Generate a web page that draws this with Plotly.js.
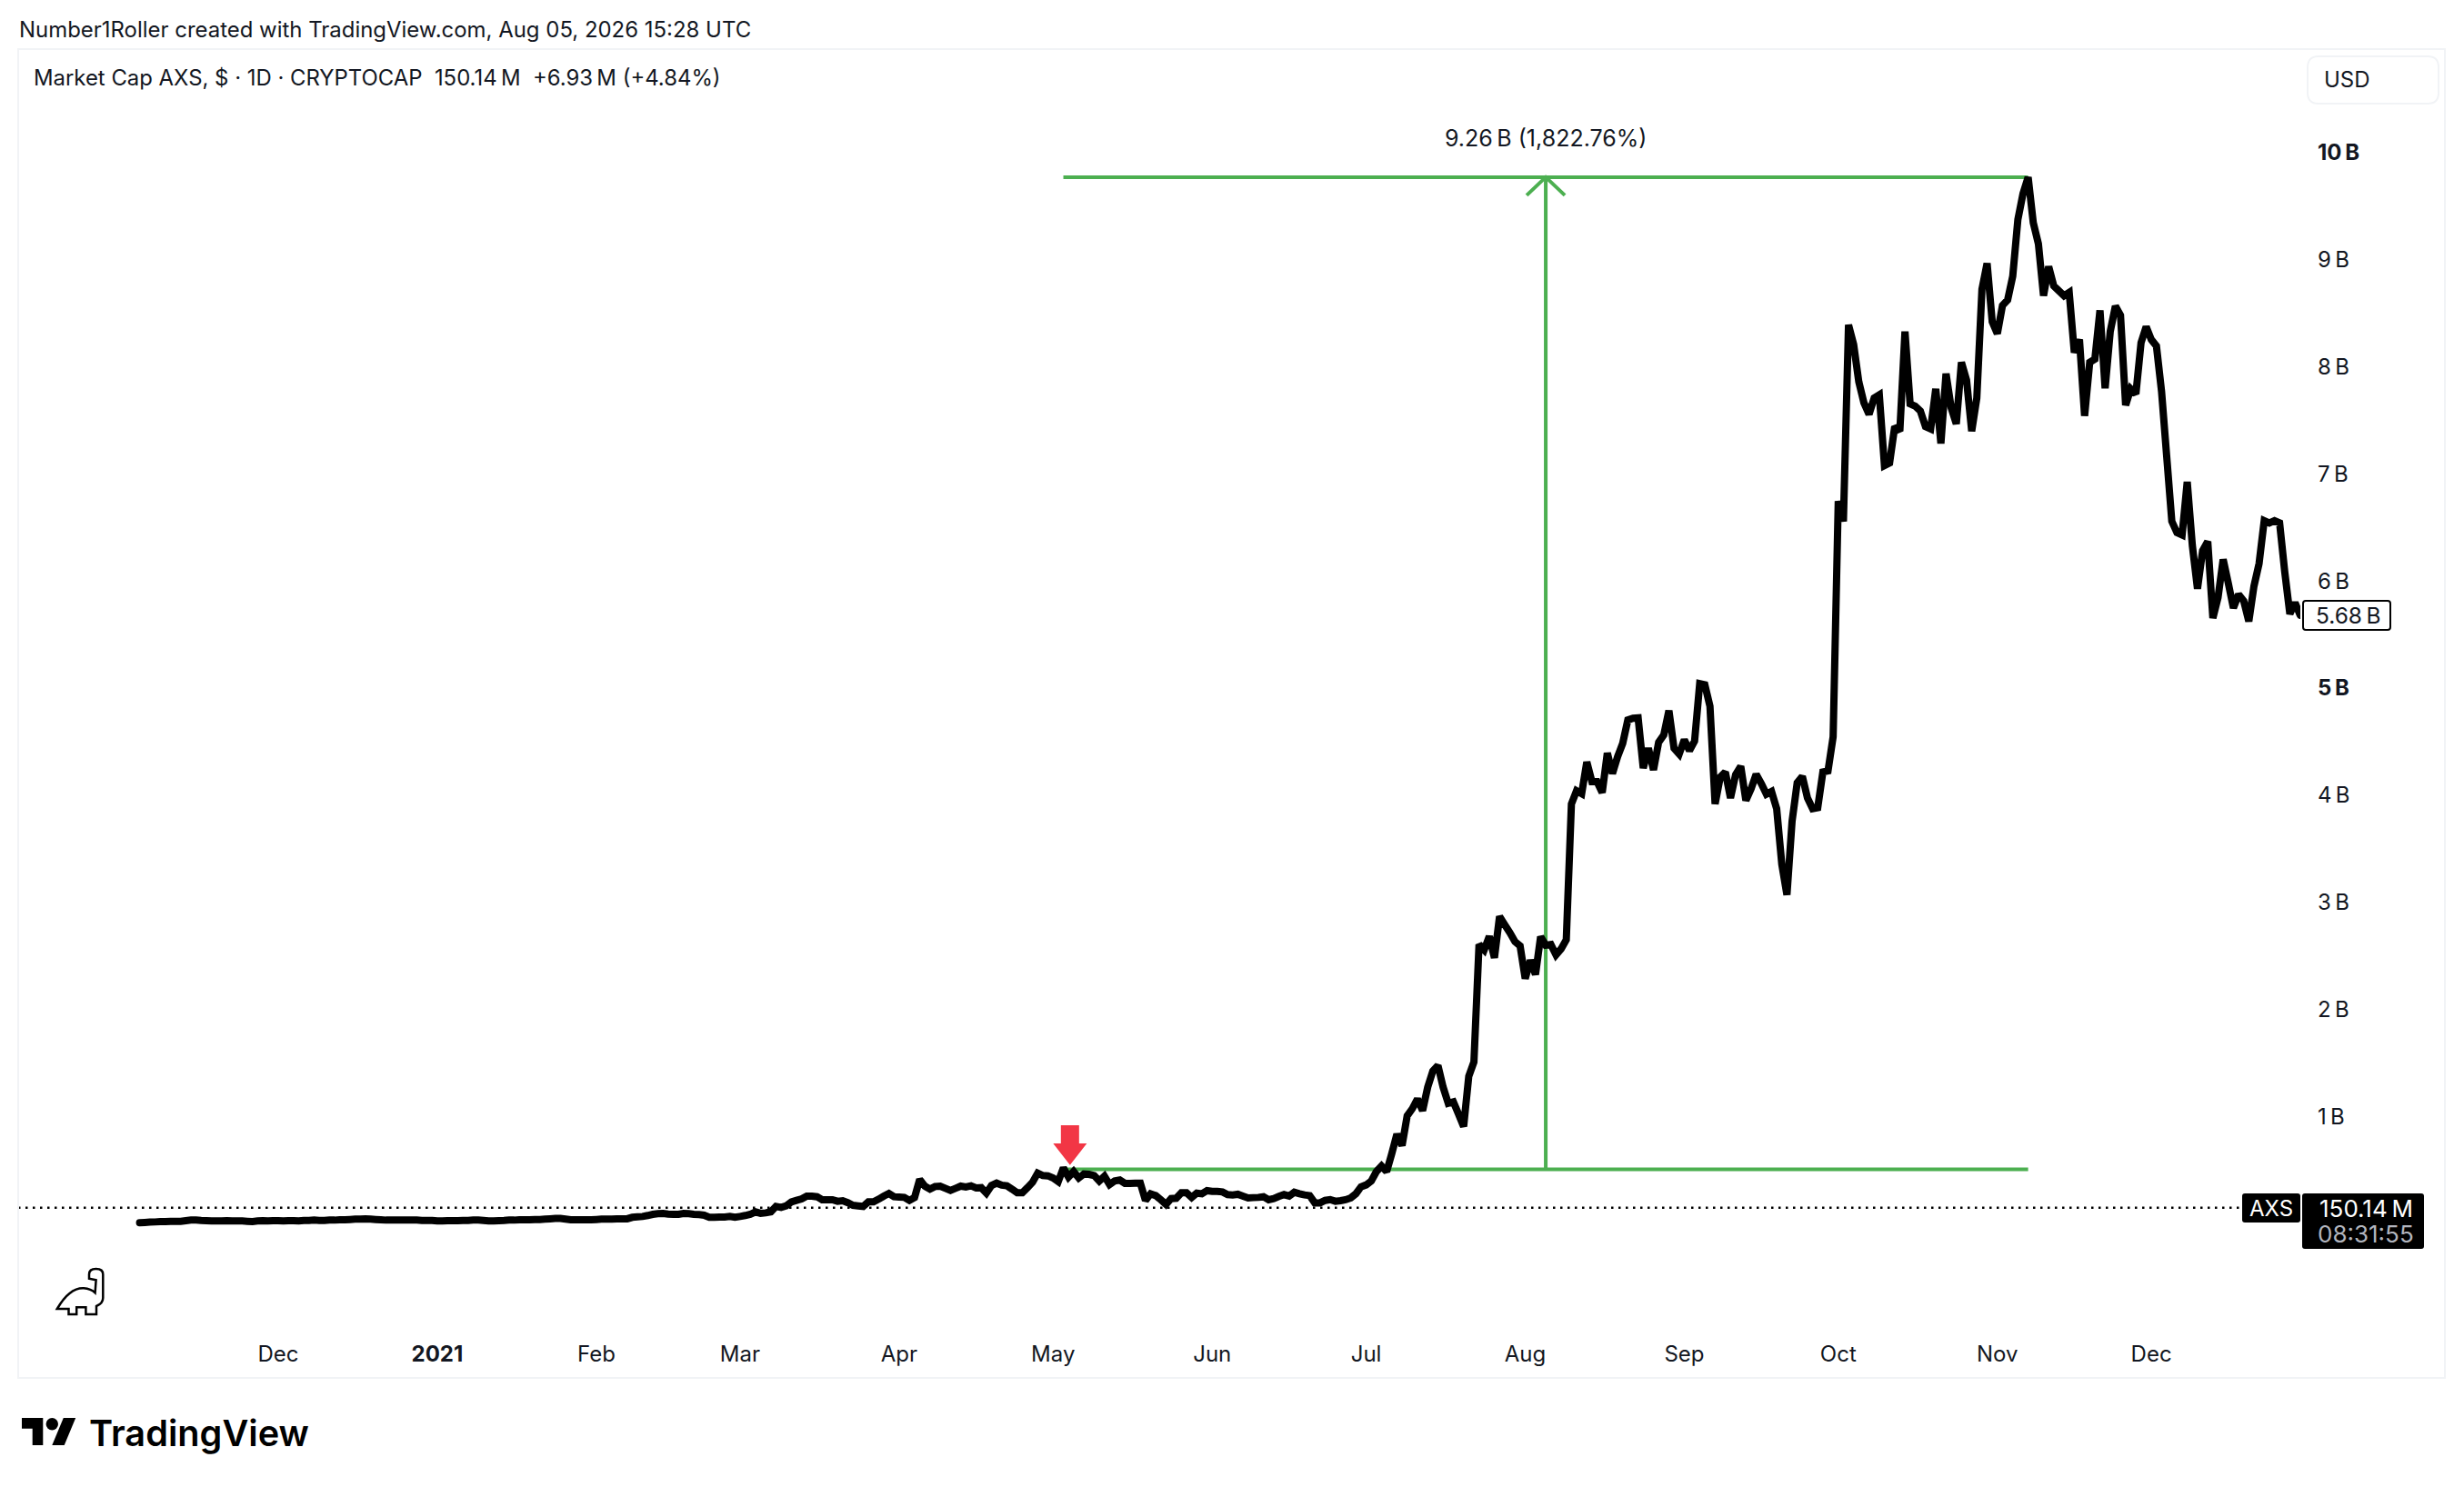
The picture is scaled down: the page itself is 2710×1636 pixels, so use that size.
<!DOCTYPE html>
<html>
<head>
<meta charset="utf-8">
<script src="https://cdn.plot.ly/plotly-3.0.1.min.js"></script>
<style>
html, body { margin: 0; padding: 0; background: #fff; }
</style>
</head>
<body>
<div id="chart" style="width:2710px;height:1636px;"></div>
<script>
// market cap in billions of USD, one close per day
var firstDay = Date.UTC(2020, 10, 4);
var nov20 = [.010,.013,.016,.018,.021,.021,.024,.024,.024,.030,.035,.035,.032,.030,.027,.027,.027,.030,.027,.027,.027,.024,.021,.027,.030,.027,.030];
var dec20 = [.030,.027,.030,.030,.027,.032,.032,.035,.032,.032,.035,.035,.038,.038,.041,.044,.044,.047,.044,.041,.038,.035,.035,.035,.035,.035,.035,.035,.032,.032,.032];
var jan21 = [.027,.027,.030,.030,.030,.032,.032,.035,.035,.032,.027,.027,.030,.032,.035,.035,.038,.038,.038,.041,.041,.044,.047,.050,.050,.044,.038,.038,.038,.038,.038];
var feb21 = [.041,.044,.044,.044,.047,.047,.047,.061,.066,.069,.078,.089,.095,.098,.092,.089,.089,.098,.095,.089,.086,.081,.061,.061,.064,.064,.069,.061];
var mar21 = [.069,.078,.089,.112,.098,.103,.112,.163,.154,.168,.205,.219,.233,.259,.259,.253,.225,.225,.225,.211,.216,.197,.174,.168,.163,.205,.205,.230,.259,.284,.253];
var apr21 = [.250,.247,.219,.245,.414,.352,.324,.349,.352,.332,.313,.332,.352,.344,.355,.335,.338,.287,.358,.380,.361,.355,.324,.290,.290,.338,.389,.474,.451,.448];
var may21 = [.428,.394,.522,.437,.488,.428,.465,.462,.451,.400,.445,.366,.400,.409,.378,.378,.380,.380,.219,.281,.264,.225,.182,.236,.239,.290,.290,.247,.287,.281,.310];
var jun21 = [.304,.304,.298,.273,.270,.276,.259,.242,.245,.247,.253,.225,.236,.256,.273,.259,.295,.281,.270,.264,.196,.196,.219,.227,.211,.216,.225,.242,.281,.346];
var jul21 = [.364,.400,.488,.539,.488,.656,.837,.730,1.008,1.075,1.166,1.058,1.276,1.427,1.477,1.276,1.125,1.139,1.025,.908,1.377,1.511,2.607,2.557,2.684,2.483,2.869,2.792,2.718,2.634,2.594];
var aug21 = [2.289,2.460,2.326,2.681,2.600,2.607,2.510,2.567,2.651,3.918,4.042,4.015,4.310,4.126,4.126,4.025,4.394,4.203,4.360,4.485,4.702,4.719,4.722,4.253,4.438,4.236,4.495,4.562,4.790,4.438,4.384];
var sep21 = [4.518,4.417,4.505,5.041,5.031,4.830,3.918,4.169,4.216,3.975,4.193,4.270,3.951,4.059,4.196,4.109,4.009,4.035,3.874,3.355,3.070,3.757,4.116,4.176,3.975,3.874,3.884,4.216,4.226,4.545];
var oct21 = [6.744,6.556,8.389,8.207,7.858,7.662,7.555,7.707,7.737,7.077,7.101,7.440,7.398,8.328,7.652,7.631,7.586,7.440,7.419,7.792,7.283,7.934,7.616,7.465,8.040,7.874,7.398,7.707,8.722,8.964,8.419];
var nov21 = [8.307,8.570,8.622,8.843,9.373,9.615,9.768,9.343,9.146,8.661,8.934,8.752,8.707,8.661,8.692,8.131,8.252,7.540,8.040,8.070,8.525,7.798,8.328,8.564,8.479,7.640,7.792,7.746,8.222,8.373];
var dec21 = [8.252,8.192,7.768,7.162,6.556,6.450,6.429,6.925,6.329,5.926,6.283,6.368,5.653,5.844,6.201,5.980,5.747,5.874,5.814,5.623,5.950,6.162,6.562,6.541,6.562,6.541,6.086,5.692,5.798,5.680];

var monthTicks = ['2020-12-01','2021-01-01','2021-02-01','2021-03-01','2021-04-01','2021-05-01','2021-06-01','2021-07-01','2021-08-01','2021-09-01','2021-10-01','2021-11-01','2021-12-01'];
var monthLabels = ['Dec','<b>2021</b>','Feb','Mar','Apr','May','Jun','Jul','Aug','Sep','Oct','Nov','Dec'];
var priceTicks = [1,2,3,4,5,6,7,8,9,10];
var priceLabels = ['1\u202fB','2\u202fB','3\u202fB','4\u202fB','<b>5\u202fB</b>','6\u202fB','7\u202fB','8\u202fB','9\u202fB','<b>10\u202fB</b>'];

var rulerFrom = '2021-05-03', rulerTo = '2021-11-07', rulerMid = '2021-08-05';
var rulerLow = 0.508, rulerHigh = 9.768;
var lastClose = 0.15014;
var signalDay = '2021-05-04T07:00:00', signalValue = 0.549;

var BLACK = '#000000', INK = '#131722', GREEN = '#4caf50', RED = '#f23645', EDGE = '#f1f3f6';
var FONT = 'Inter, "Liberation Sans", sans-serif';

var values = [].concat(nov20, dec20, jan21, feb21, mar21, apr21, may21, jun21, jul21, aug21, sep21, oct21, nov21, dec21);
var days = [];
for (var i = 0; i < values.length; i++) {
    days.push(new Date(firstDay + i * 864e5).toISOString().slice(0, 10));
}

// plot box in page pixels, everything outside the data goes through these
var L = 20, R = 2530, T = 54, B = 1466;
function fx(x) { return (x - L) / (R - L); }
function fy(y) { return (B - y) / (B - T); }
function paperPath(p) {
    return p.replace(/(-?[\d.]+) (-?[\d.]+)/g, function(m, a, b) { return fx(+a) + ' ' + fy(+b); });
}
function box(x0, y0, x1, y1, fill, line, lineWidth) {
    return {type: 'rect', xref: 'paper', yref: 'paper', x0: fx(x0), x1: fx(x1), y0: fy(y0), y1: fy(y1),
        fillcolor: fill, line: {color: line, width: lineWidth}};
}
function roundBox(x0, y0, x1, y1, r, fill, line, lineWidth) {
    var p = 'M ' + (x0 + r) + ' ' + y0 + ' L ' + (x1 - r) + ' ' + y0 + ' Q ' + x1 + ' ' + y0 + ' ' + x1 + ' ' + (y0 + r) +
        ' L ' + x1 + ' ' + (y1 - r) + ' Q ' + x1 + ' ' + y1 + ' ' + (x1 - r) + ' ' + y1 +
        ' L ' + (x0 + r) + ' ' + y1 + ' Q ' + x0 + ' ' + y1 + ' ' + x0 + ' ' + (y1 - r) +
        ' L ' + x0 + ' ' + (y0 + r) + ' Q ' + x0 + ' ' + y0 + ' ' + (x0 + r) + ' ' + y0 + ' Z';
    return {type: 'path', xref: 'paper', yref: 'paper', path: paperPath(p), fillcolor: fill,
        line: {color: line, width: lineWidth}};
}
function label(text, x, y, size, color, anchor, weight) {
    return {text: text, xref: 'paper', yref: 'paper', x: fx(x), y: fy(y), xanchor: anchor, yanchor: 'middle',
        showarrow: false, borderpad: 0, font: {family: FONT, size: size, color: color, weight: weight || 400}};
}

var trace = {
    x: days,
    y: values,
    type: 'scatter',
    mode: 'lines',
    line: {color: BLACK, width: 8, shape: 'linear', simplify: false},
    hoverinfo: 'skip'
};

var shapes = [
    box(20, 54, 2689, 1516, 'rgba(0,0,0,0)', EDGE, 2),
    roundBox(2538, 62, 2682, 114, 12, '#ffffff', EDGE, 2),
    // last close dotted line
    {type: 'line', layer: 'below', xref: 'paper', yref: 'y', x0: 0, x1: fx(2466), y0: lastClose, y1: lastClose,
        line: {color: BLACK, width: 2.5, dash: '2.5px,5.5px'}},
    // price range ruler
    {type: 'line', layer: 'below', xref: 'x', yref: 'y', x0: rulerFrom, x1: rulerTo, y0: rulerLow, y1: rulerLow,
        line: {color: GREEN, width: 4}},
    {type: 'line', layer: 'below', xref: 'x', yref: 'y', x0: rulerFrom, x1: rulerTo, y0: rulerHigh, y1: rulerHigh,
        line: {color: GREEN, width: 4}},
    {type: 'line', layer: 'below', xref: 'x', yref: 'y', x0: rulerMid, x1: rulerMid, y0: rulerLow, y1: rulerHigh,
        line: {color: GREEN, width: 4}},
    {type: 'path', layer: 'below', xref: 'x', yref: 'y', xsizemode: 'pixel', ysizemode: 'pixel',
        xanchor: rulerMid, yanchor: rulerHigh, path: 'M -21 -20 L 0 0 L 21 -20', line: {color: GREEN, width: 4}},
    // red signal arrow
    {type: 'path', xref: 'x', yref: 'y', xsizemode: 'pixel', ysizemode: 'pixel', xanchor: signalDay, yanchor: signalValue,
        path: 'M 0 0 L -18.5 23.7 L -10 23.7 L -10 43.7 L 10 43.7 L 10 23.7 L 18.5 23.7 Z', fillcolor: RED, line: {width: 0}},
    // price scale tags
    roundBox(2533, 661, 2629, 693, 3, '#ffffff', BLACK, 2),
    roundBox(2466, 1313, 2530, 1345, 3, BLACK, BLACK, 0),
    roundBox(2532, 1313, 2666, 1374, 3, BLACK, BLACK, 0),
    // dino icon
    {type: 'path', xref: 'paper', yref: 'paper', line: {color: BLACK, width: 2.5},
        path: paperPath('M 98 1402 Q 98 1396 105.6 1396 Q 113.3 1396 113.3 1402 L 113.3 1428 Q 113.3 1434 106 1437 L 106 1446 L 94.4 1446 L 94.4 1438.3 L 84.2 1438.3 L 84.2 1446 L 75.5 1446 L 75.5 1440 L 62.8 1440 Q 70 1428 76.5 1423 Q 84 1417 92 1417.3 Q 100 1418 104.6 1422.3 L 105.6 1408.3 L 98 1406.7 Z')},
    // TradingView mark
    {type: 'path', xref: 'paper', yref: 'paper', fillcolor: BLACK, line: {width: 0},
        path: paperPath('M 47.3 1590 L 35.7 1590 L 35.7 1571.7 L 24 1571.7 L 24 1560 L 47.3 1560 Z')},
    {type: 'path', xref: 'paper', yref: 'paper', fillcolor: BLACK, line: {width: 0},
        path: paperPath('M 70.7 1590 L 57.3 1590 L 69.8 1560 L 83.2 1560 Z')},
    {type: 'circle', xref: 'paper', yref: 'paper', fillcolor: BLACK, line: {width: 0},
        x0: fx(50.6), x1: fx(64), y0: fy(1573.4), y1: fy(1560)}
];

var annotations = [
    label('Number1Roller created with TradingView.com, Aug 05, 2026 15:28 UTC', 20, 32, 23.95, INK, 'left'),
    label('Market Cap AXS, $ \u00b7 1D \u00b7 CRYPTOCAP\u00a0\u00a0150.14\u202fM\u00a0\u00a0+6.93\u202fM (+4.84%)', 36, 86, 23.9, INK, 'left'),
    label('USD', 2581, 87, 24, INK, 'center'),
    label('9.26\u202fB (1,822.76%)', 1700, 152, 25, INK, 'center'),
    label('5.68\u202fB', 2583, 677, 24.5, INK, 'center'),
    label('AXS', 2498, 1329, 24, '#ffffff', 'center'),
    label('150.14\u202fM', 2602, 1329, 26, '#ffffff', 'center'),
    label('08:31:55', 2602, 1357, 26, '#b2b5be', 'center'),
    label('TradingView', 97, 1577, 39.7, BLACK, 'left', 600)
];

var layout = {
    width: 2710,
    height: 1636,
    autosize: false,
    showlegend: false,
    paper_bgcolor: '#ffffff',
    plot_bgcolor: '#ffffff',
    margin: {l: L, r: 2710 - R, t: T, b: 1636 - B, pad: 0},
    font: {family: FONT, size: 24, color: INK},
    xaxis: {
        type: 'date',
        range: ['2020-10-11T08:00:00', '2021-12-30T01:00:00'],
        tickmode: 'array',
        tickvals: monthTicks,
        ticktext: monthLabels,
        ticks: '',
        showgrid: false,
        zeroline: false,
        showline: false,
        ticklabelstandoff: 7,
        tickfont: {family: FONT, size: 24, color: INK}
    },
    yaxis: {
        side: 'right',
        range: [-1.0136, 10.963],
        tickmode: 'array',
        tickvals: priceTicks,
        ticktext: priceLabels,
        ticks: '',
        showgrid: false,
        zeroline: false,
        showline: false,
        ticklabelstandoff: 18,
        tickfont: {family: FONT, size: 24, color: INK}
    },
    shapes: shapes,
    annotations: annotations
};

Plotly.newPlot('chart', [trace], layout, {displayModeBar: false, staticPlot: true}).then(function() {
    // the series has rounded ends in the original
    document.querySelectorAll('.scatterlayer .js-line').forEach(function(el) {
        el.style.strokeLinecap = 'round';
    });
});
</script>
</body>
</html>
